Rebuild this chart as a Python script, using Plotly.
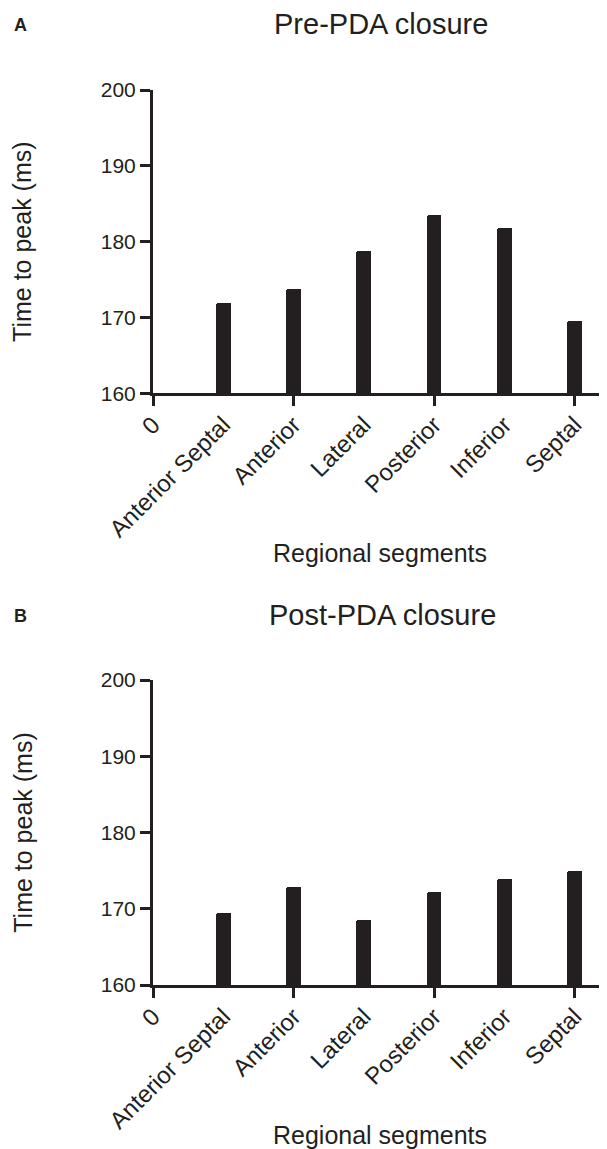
import plotly.graph_objects as go

# ---- data ----
tick_labels = ["0", "Anterior Septal", "Anterior", "Lateral", "Posterior", "Inferior", "Septal"]
segments = tick_labels[1:]
positions = [1, 2, 3, 4, 5, 6]
tick_positions = [0, 1, 2, 3, 4, 5, 6]
major_tick_positions = [0, 2, 4, 6]
pre_values = [171.9, 173.7, 178.8, 183.5, 181.8, 169.6]
post_values = [169.4, 172.9, 168.5, 172.2, 173.9, 175.0]
y_ticks = [160, 170, 180, 190, 200]

INK = "#231f20"
FONT = "Liberation Sans, Arial, Helvetica, sans-serif"
OFF = 8          # page body margin
W = 607 - OFF
H = 1149 - OFF
LEFT = 153 - OFF


def py(page_y):
    """page pixel row -> paper fraction"""
    return 1 - (page_y - OFF) / H


def px(page_x):
    """page pixel column -> paper fraction"""
    return (page_x - OFF - LEFT) / (W - LEFT)


fig = go.Figure()
fig.add_trace(go.Bar(x=positions, y=pre_values, xaxis="x", yaxis="y", width=0.21,
                     marker=dict(color=INK, cornerradius=2, line_width=0),
                     hovertext=segments, showlegend=False))
fig.add_trace(go.Bar(x=positions, y=post_values, xaxis="x2", yaxis="y2", width=0.21,
                     marker=dict(color=INK, cornerradius=2, line_width=0),
                     hovertext=segments, showlegend=False))
# empty traces that carry the overlay tick axes
fig.add_trace(go.Scatter(x=[], y=[], xaxis="x3", yaxis="y", showlegend=False, hoverinfo="skip"))
fig.add_trace(go.Scatter(x=[], y=[], xaxis="x4", yaxis="y2", showlegend=False, hoverinfo="skip"))

dom_a = [py(393.3), py(90)]
dom_b = [py(985), py(680)]
xr = [0, 6.46]


def yaxis(domain, anchor):
    return dict(domain=domain, anchor=anchor, range=[160, 200], tickvals=y_ticks,
                showline=True, linewidth=3, linecolor=INK, ticks="outside", ticklen=10,
                tickwidth=3, tickcolor=INK, showgrid=False, zeroline=False, automargin=False,
                tickfont=dict(size=21, color=INK, family=FONT),
                title=dict(text="Time to peak (ms)", font=dict(size=25, color=INK, family=FONT),
                           standoff=62))


def xaxis_main(anchor):
    return dict(anchor=anchor, domain=[0, 1], range=xr, tickvals=tick_positions,
                ticktext=tick_labels, tickangle=-45, ticks="outside", ticklen=5,
                tickcolor="rgba(0,0,0,0)", showline=True, linewidth=3, linecolor=INK,
                showgrid=False, zeroline=False, automargin=False,
                tickfont=dict(size=24, color=INK, family=FONT),
                title=dict(text="Regional segments", font=dict(size=25, color=INK, family=FONT),
                           standoff=4))


def xaxis_ticks(overlay, anchor):
    return dict(overlaying=overlay, anchor=anchor, domain=[0, 1], range=xr,
                tickvals=major_tick_positions, showticklabels=False, ticks="outside",
                ticklen=12, tickwidth=3, tickcolor=INK, showline=False, showgrid=False,
                zeroline=False, automargin=False)


fig.update_layout(
    width=W, height=H,
    margin=dict(l=LEFT, r=0, t=0, b=0, autoexpand=False),
    paper_bgcolor="white", plot_bgcolor="white",
    font=dict(family=FONT, color=INK),
    bargap=0,
    xaxis=xaxis_main("y"),
    xaxis2=xaxis_main("y2"),
    xaxis3=xaxis_ticks("x", "y"),
    xaxis4=xaxis_ticks("x2", "y2"),
    yaxis=yaxis(dom_a, "x"),
    yaxis2=yaxis(dom_b, "x2"),
    annotations=[
        dict(text="Pre-PDA closure", x=px(381), y=py(24), xref="paper", yref="paper",
             showarrow=False, xanchor="center", yanchor="middle",
             font=dict(size=29, color=INK, family=FONT)),
        dict(text="Post-PDA closure", x=px(382), y=py(615), xref="paper", yref="paper",
             showarrow=False, xanchor="center", yanchor="middle",
             font=dict(size=29, color=INK, family=FONT)),
        dict(text="<b>A</b>", x=px(12), y=py(25), xref="paper", yref="paper",
             showarrow=False, xanchor="left", yanchor="middle",
             font=dict(size=18, color=INK, family=FONT)),
        dict(text="<b>B</b>", x=px(12), y=py(616), xref="paper", yref="paper",
             showarrow=False, xanchor="left", yanchor="middle",
             font=dict(size=18, color=INK, family=FONT)),
    ],
)

fig.write_html("out.html")
